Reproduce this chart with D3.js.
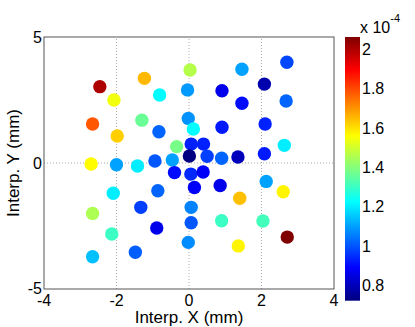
<!DOCTYPE html>
<html><head><meta charset="utf-8">
<script src="https://cdn.jsdelivr.net/npm/d3@7"></script>
<style>body{margin:0;background:#fff;} text{font-family:"Liberation Sans",Arial,sans-serif;fill:#000;}</style>
</head><body><svg id="c" width="415" height="327"></svg>
<script>
// Interpolated point positions (mm) and values (x 10^-4)
const xs = [-2.46,-2.07,-1.23,-0.81,0.03,-0.04,-2.66,-1.30,-1.98,-0.83,-0.02,0.12,-0.34,0.06,0.40,0.01,-2.70,-2.00,-1.42,-0.94,-0.46,
            1.46,2.70,2.08,0.91,1.46,2.68,0.91,2.10,2.63,0.50,0.90,1.35,2.08,
            -0.40,0.05,0.39,0.15,-0.86,-2.09,-1.33,0.06,-2.66,0.06,-0.89,-2.13,-0.02,-1.48,-2.66,
            0.86,1.40,2.13,2.60,0.90,2.04,2.71,1.36];
const ys = [3.03,2.50,3.36,2.70,3.69,2.90,1.55,1.70,1.07,1.24,1.77,1.35,0.65,0.75,0.75,0.28,-0.04,-0.07,-0.12,0.08,0.12,
            3.72,4.00,3.13,2.87,2.37,2.46,1.42,1.55,0.70,0.27,0.19,0.24,0.37,
            -0.38,-0.44,-0.36,-0.97,-1.10,-1.20,-1.76,-1.76,-2.00,-2.37,-2.58,-2.82,-3.15,-3.54,-3.72,
            -0.89,-1.40,-0.73,-1.14,-2.29,-2.30,-2.94,-3.29];
const vals = [2.00,1.54,1.65,1.22,1.46,1.09,1.78,1.36,1.62,1.02,1.08,1.22,1.38,0.93,0.93,0.72,1.56,1.10,1.20,1.00,1.10,
              1.10,0.98,0.78,0.86,0.90,1.02,0.92,0.93,1.20,0.97,1.02,0.80,0.92,
              0.90,0.94,0.88,0.88,1.02,1.20,0.97,1.06,1.45,1.00,0.86,1.30,1.07,1.01,1.14,
              0.86,1.64,1.10,1.57,1.30,1.31,2.06,1.57];
const xTicks = [-4,-2,0,2,4];
const yTicks = [-5,0,5];
const xGrid = [-2,0,2];
const yGrid = [0];
const cTicks = [0.8,1,1.2,1.4,1.6,1.8,2];
const cTickLabels = ["0.8","1","1.2","1.4","1.6","1.8","2"];

const svg = d3.select("#c");
const x = d3.scaleLinear().domain([-4,4]).range([44,334]);
const y = d3.scaleLinear().domain([-5,5]).range([289,37]);
const cExt = d3.extent(vals);
const cNorm = d3.scaleLinear().domain(cExt).range([0,1]).clamp(true);
function jet(t){
  const c=v=>Math.max(0,Math.min(1,v));
  return d3.rgb(255*c(1.5-Math.abs(4*t-3)),255*c(1.5-Math.abs(4*t-2)),255*c(1.5-Math.abs(4*t-1))).toString();
}
const color = v => jet(cNorm(v));

// grid
svg.append("g").selectAll("line").data(xGrid).join("line")
  .attr("x1",d=>x(d)).attr("x2",d=>x(d)).attr("y1",y(-5)).attr("y2",y(5))
  .attr("stroke","#aaa").attr("stroke-width",1).attr("stroke-dasharray","1,2");
svg.append("g").selectAll("line").data(yGrid).join("line")
  .attr("y1",d=>y(d)).attr("y2",d=>y(d)).attr("x1",x(-4)).attr("x2",x(4))
  .attr("stroke","#aaa").attr("stroke-width",1).attr("stroke-dasharray","1,2");

// box
svg.append("rect").attr("x",x(-4)).attr("y",y(5)).attr("width",x(4)-x(-4)).attr("height",y(-5)-y(5))
  .attr("fill","none").attr("stroke","#555").attr("stroke-width",1);

// points
svg.append("g").selectAll("circle").data(vals.map((v,i)=>({x:xs[i],y:ys[i],v}))).join("circle")
  .attr("cx",d=>x(d.x)).attr("cy",d=>y(d.y)).attr("r",6.7).attr("fill",d=>color(d.v));

// tick labels
svg.append("g").selectAll("text").data(xTicks).join("text")
  .attr("x",d=>x(d)).attr("y",306).attr("text-anchor","middle").attr("font-size",16)
  .text(d=>d<0?"-"+Math.abs(d):d);
svg.append("g").selectAll("text").data(yTicks).join("text")
  .attr("x",42).attr("y",d=>y(d)+(d<0?4.5:6)).attr("text-anchor","end").attr("font-size",16)
  .text(d=>d<0?"-"+Math.abs(d):d);

// axis labels
svg.append("text").attr("x",189).attr("y",322.5).attr("text-anchor","middle").attr("font-size",17).text("Interp. X (mm)");
svg.append("text").attr("transform","translate(19,163) rotate(-90)").attr("text-anchor","middle").attr("font-size",17).text("Interp. Y (mm)");

// colorbar
const cy = d3.scaleLinear().domain(cExt).range([300.7,37]);
const defs = svg.append("defs");
const grad = defs.append("linearGradient").attr("id","jet").attr("x1",0).attr("x2",0).attr("y1",1).attr("y2",0);
grad.selectAll("stop").data(d3.range(0,1.0001,1/64)).join("stop")
  .attr("offset",d=>d).attr("stop-color",d=>jet(d));
svg.append("rect").attr("x",345).attr("y",cy(cExt[1])).attr("width",15).attr("height",cy(cExt[0])-cy(cExt[1]))
  .attr("fill","url(#jet)");
svg.append("g").selectAll("text").data(cTicks).join("text")
  .attr("x",362).attr("y",d=>cy(d)+6).attr("font-size",16).text((d,i)=>cTickLabels[i]);
const ex = svg.append("text").attr("x",360).attr("y",33).attr("font-size",16);
ex.append("tspan").text("x 10");
ex.append("tspan").attr("dy",-11).attr("font-size",11).text("-4");
</script></body></html>
